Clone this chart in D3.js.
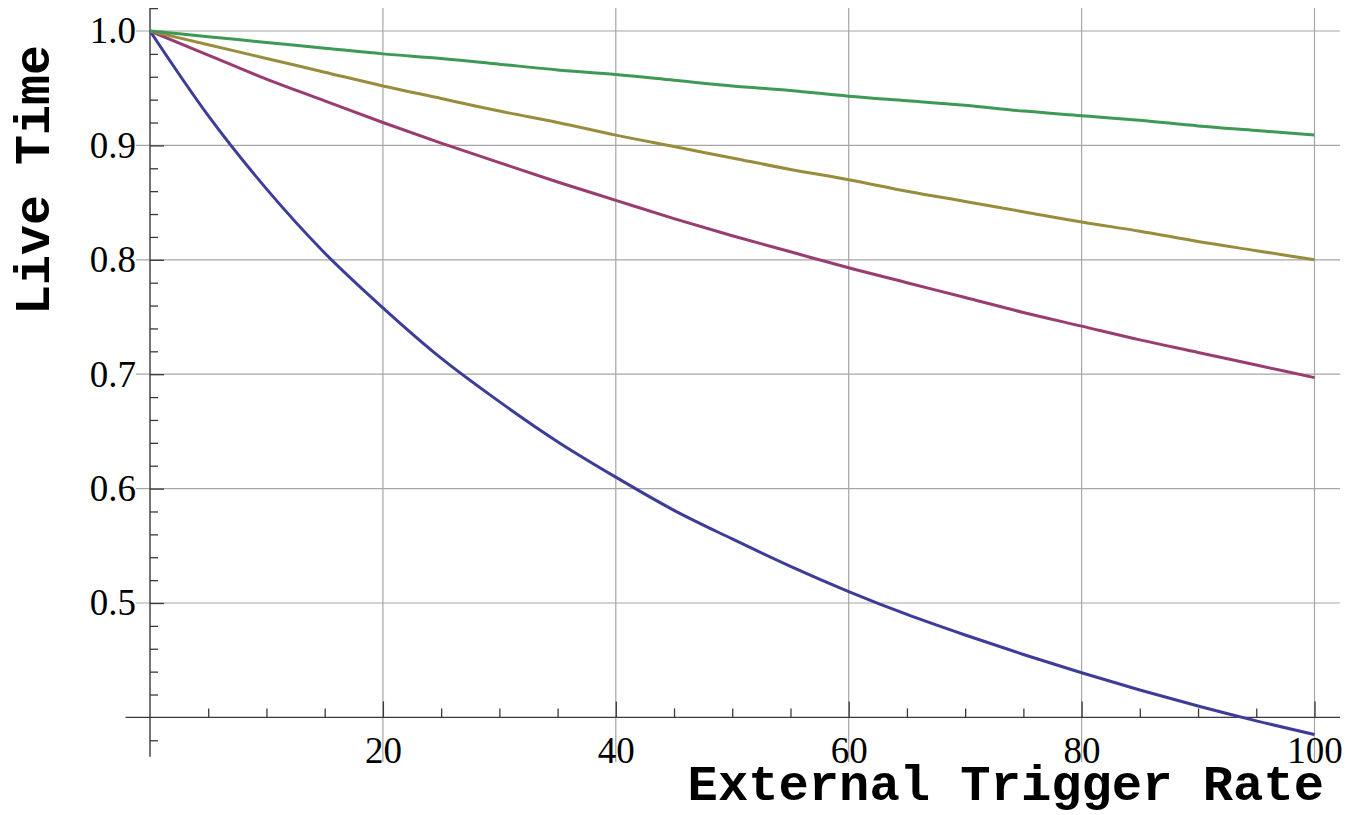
<!DOCTYPE html>
<html>
<head>
<meta charset="utf-8">
<script src="https://cdn.jsdelivr.net/npm/d3@7"></script>
<style>
  body { margin: 0; background: #fff; }
  svg { display: block; }
</style>
</head>
<body>
<svg width="1349" height="815"></svg>
<script>
// values, every 5 units of trigger rate
let rates = [0, 5, 10, 15, 20, 25, 30, 35, 40, 45, 50, 55, 60, 65, 70, 75, 80, 85, 90, 95, 100];

let blueLive = [1.0, 0.926, 0.862, 0.806, 0.758, 0.714, 0.676, 0.641, 0.610, 0.581, 0.556,
  0.532, 0.510, 0.490, 0.472, 0.455, 0.439, 0.424, 0.410, 0.397, 0.385];
let purpleLive = [1.0, 0.979, 0.958, 0.939, 0.920, 0.902, 0.885, 0.868, 0.852, 0.836, 0.821,
  0.807, 0.793, 0.780, 0.767, 0.754, 0.742, 0.730, 0.719, 0.708, 0.697];
let oliveLive = [1.0, 0.988, 0.976, 0.964, 0.952, 0.941, 0.930, 0.920, 0.909, 0.899, 0.889,
  0.879, 0.870, 0.860, 0.851, 0.842, 0.833, 0.825, 0.816, 0.808, 0.800];
let greenLive = [1.0, 0.995, 0.990, 0.985, 0.980, 0.976, 0.971, 0.966, 0.962, 0.957, 0.952,
  0.948, 0.943, 0.939, 0.935, 0.930, 0.926, 0.922, 0.917, 0.913, 0.909];

let xMajor = [20, 40, 60, 80, 100];
let yMajor = [0.5, 0.6, 0.7, 0.8, 0.9, 1.0];

let series = [
  {values: blueLive, color: "#3d3d99"},
  {values: purpleLive, color: "#993d71"},
  {values: oliveLive, color: "#998c3d"},
  {values: greenLive, color: "#3d9954"}
];

let svg = d3.select("svg");

let x = d3.scaleLinear().domain([0, 100]).range([150, 1314.5]);
let y = d3.scaleLinear().domain([0.5, 1.0]).range([603, 31]);

// minor ticks
let xMinor = d3.range(5, 101, 5).filter(v => xMajor.indexOf(v) < 0);
let yMinor = d3.range(0.38, 1.021, 0.02).map(v => +v.toFixed(2))
  .filter(v => yMajor.indexOf(v) < 0 && v !== 0.4);

// grid
svg.append("g")
  .selectAll("line")
  .data(xMajor)
  .enter().append("line")
  .attr("x1", d => x(d)).attr("x2", d => x(d))
  .attr("y1", y(1.02)).attr("y2", 762)
  .style("stroke", "#a6a6a6")
  .style("stroke-width", 1.2);

svg.append("g")
  .selectAll("line")
  .data(yMajor)
  .enter().append("line")
  .attr("x1", 136).attr("x2", x(102.2))
  .attr("y1", d => y(d)).attr("y2", d => y(d))
  .style("stroke", "#a6a6a6")
  .style("stroke-width", 1.2);

// axes
let xAxis = d3.axisBottom(x)
  .tickValues(xMajor)
  .tickSizeInner(-16)
  .tickSizeOuter(0)
  .tickPadding(19)
  .tickFormat(d3.format("d"));

let xAxisMinor = d3.axisBottom(x)
  .tickValues(xMinor)
  .tickSizeInner(-9)
  .tickSizeOuter(0)
  .tickFormat("");

let yAxis = d3.axisLeft(y)
  .tickValues(yMajor)
  .tickSizeInner(-14)
  .tickSizeOuter(0)
  .tickPadding(14)
  .tickFormat(d3.format(".1f"));

let yAxisMinor = d3.axisLeft(y)
  .tickValues(yMinor)
  .tickSizeInner(-8)
  .tickSizeOuter(0)
  .tickFormat("");

function styleAxis(g) {
  g.select(".domain").remove();
  g.selectAll(".tick line").style("stroke", "#3a3a3a").style("stroke-width", 1.3);
  g.selectAll(".tick text")
    .style("font-family", "'Liberation Serif', 'Times New Roman', serif")
    .style("font-size", "37px")
    .style("fill", "#000");
}

svg.append("g").attr("transform", `translate(0,${y(0.4)})`).call(xAxisMinor).call(styleAxis);
svg.append("g").attr("transform", `translate(0,${y(0.4)})`).call(xAxis).call(styleAxis);
svg.append("g").attr("transform", `translate(${x(0)},0)`).call(yAxisMinor).call(styleAxis);
svg.append("g").attr("transform", `translate(${x(0)},0)`).call(yAxis).call(styleAxis);

// axis lines
svg.append("line")
  .attr("x1", x(-2.1)).attr("x2", x(102.2))
  .attr("y1", y(0.4)).attr("y2", y(0.4))
  .style("stroke", "#3a3a3a").style("stroke-width", 1.4);
svg.append("line")
  .attr("x1", x(0)).attr("x2", x(0))
  .attr("y1", y(1.02)).attr("y2", y(0.3655))
  .style("stroke", "#3a3a3a").style("stroke-width", 1.4);

// curves
let line = d3.line()
  .x((d, i) => x(rates[i]))
  .y(d => y(d))
  .curve(d3.curveMonotoneX);

svg.append("g")
  .selectAll("path")
  .data(series)
  .enter().append("path")
  .attr("d", d => line(d.values))
  .style("fill", "none")
  .style("stroke", d => d.color)
  .style("stroke-width", 3);

// labels
svg.append("text")
  .attr("x", 1324)
  .attr("y", 800)
  .attr("text-anchor", "end")
  .style("font-family", "'Liberation Mono', 'Courier New', monospace")
  .style("font-weight", "bold")
  .style("font-size", "50.5px")
  .text("External Trigger Rate");

svg.append("text")
  .attr("transform", "translate(49,180) rotate(-90)")
  .attr("text-anchor", "middle")
  .style("font-family", "'Liberation Mono', 'Courier New', monospace")
  .style("font-weight", "bold")
  .style("font-size", "50px")
  .text("Live Time");
</script>
</body>
</html>
